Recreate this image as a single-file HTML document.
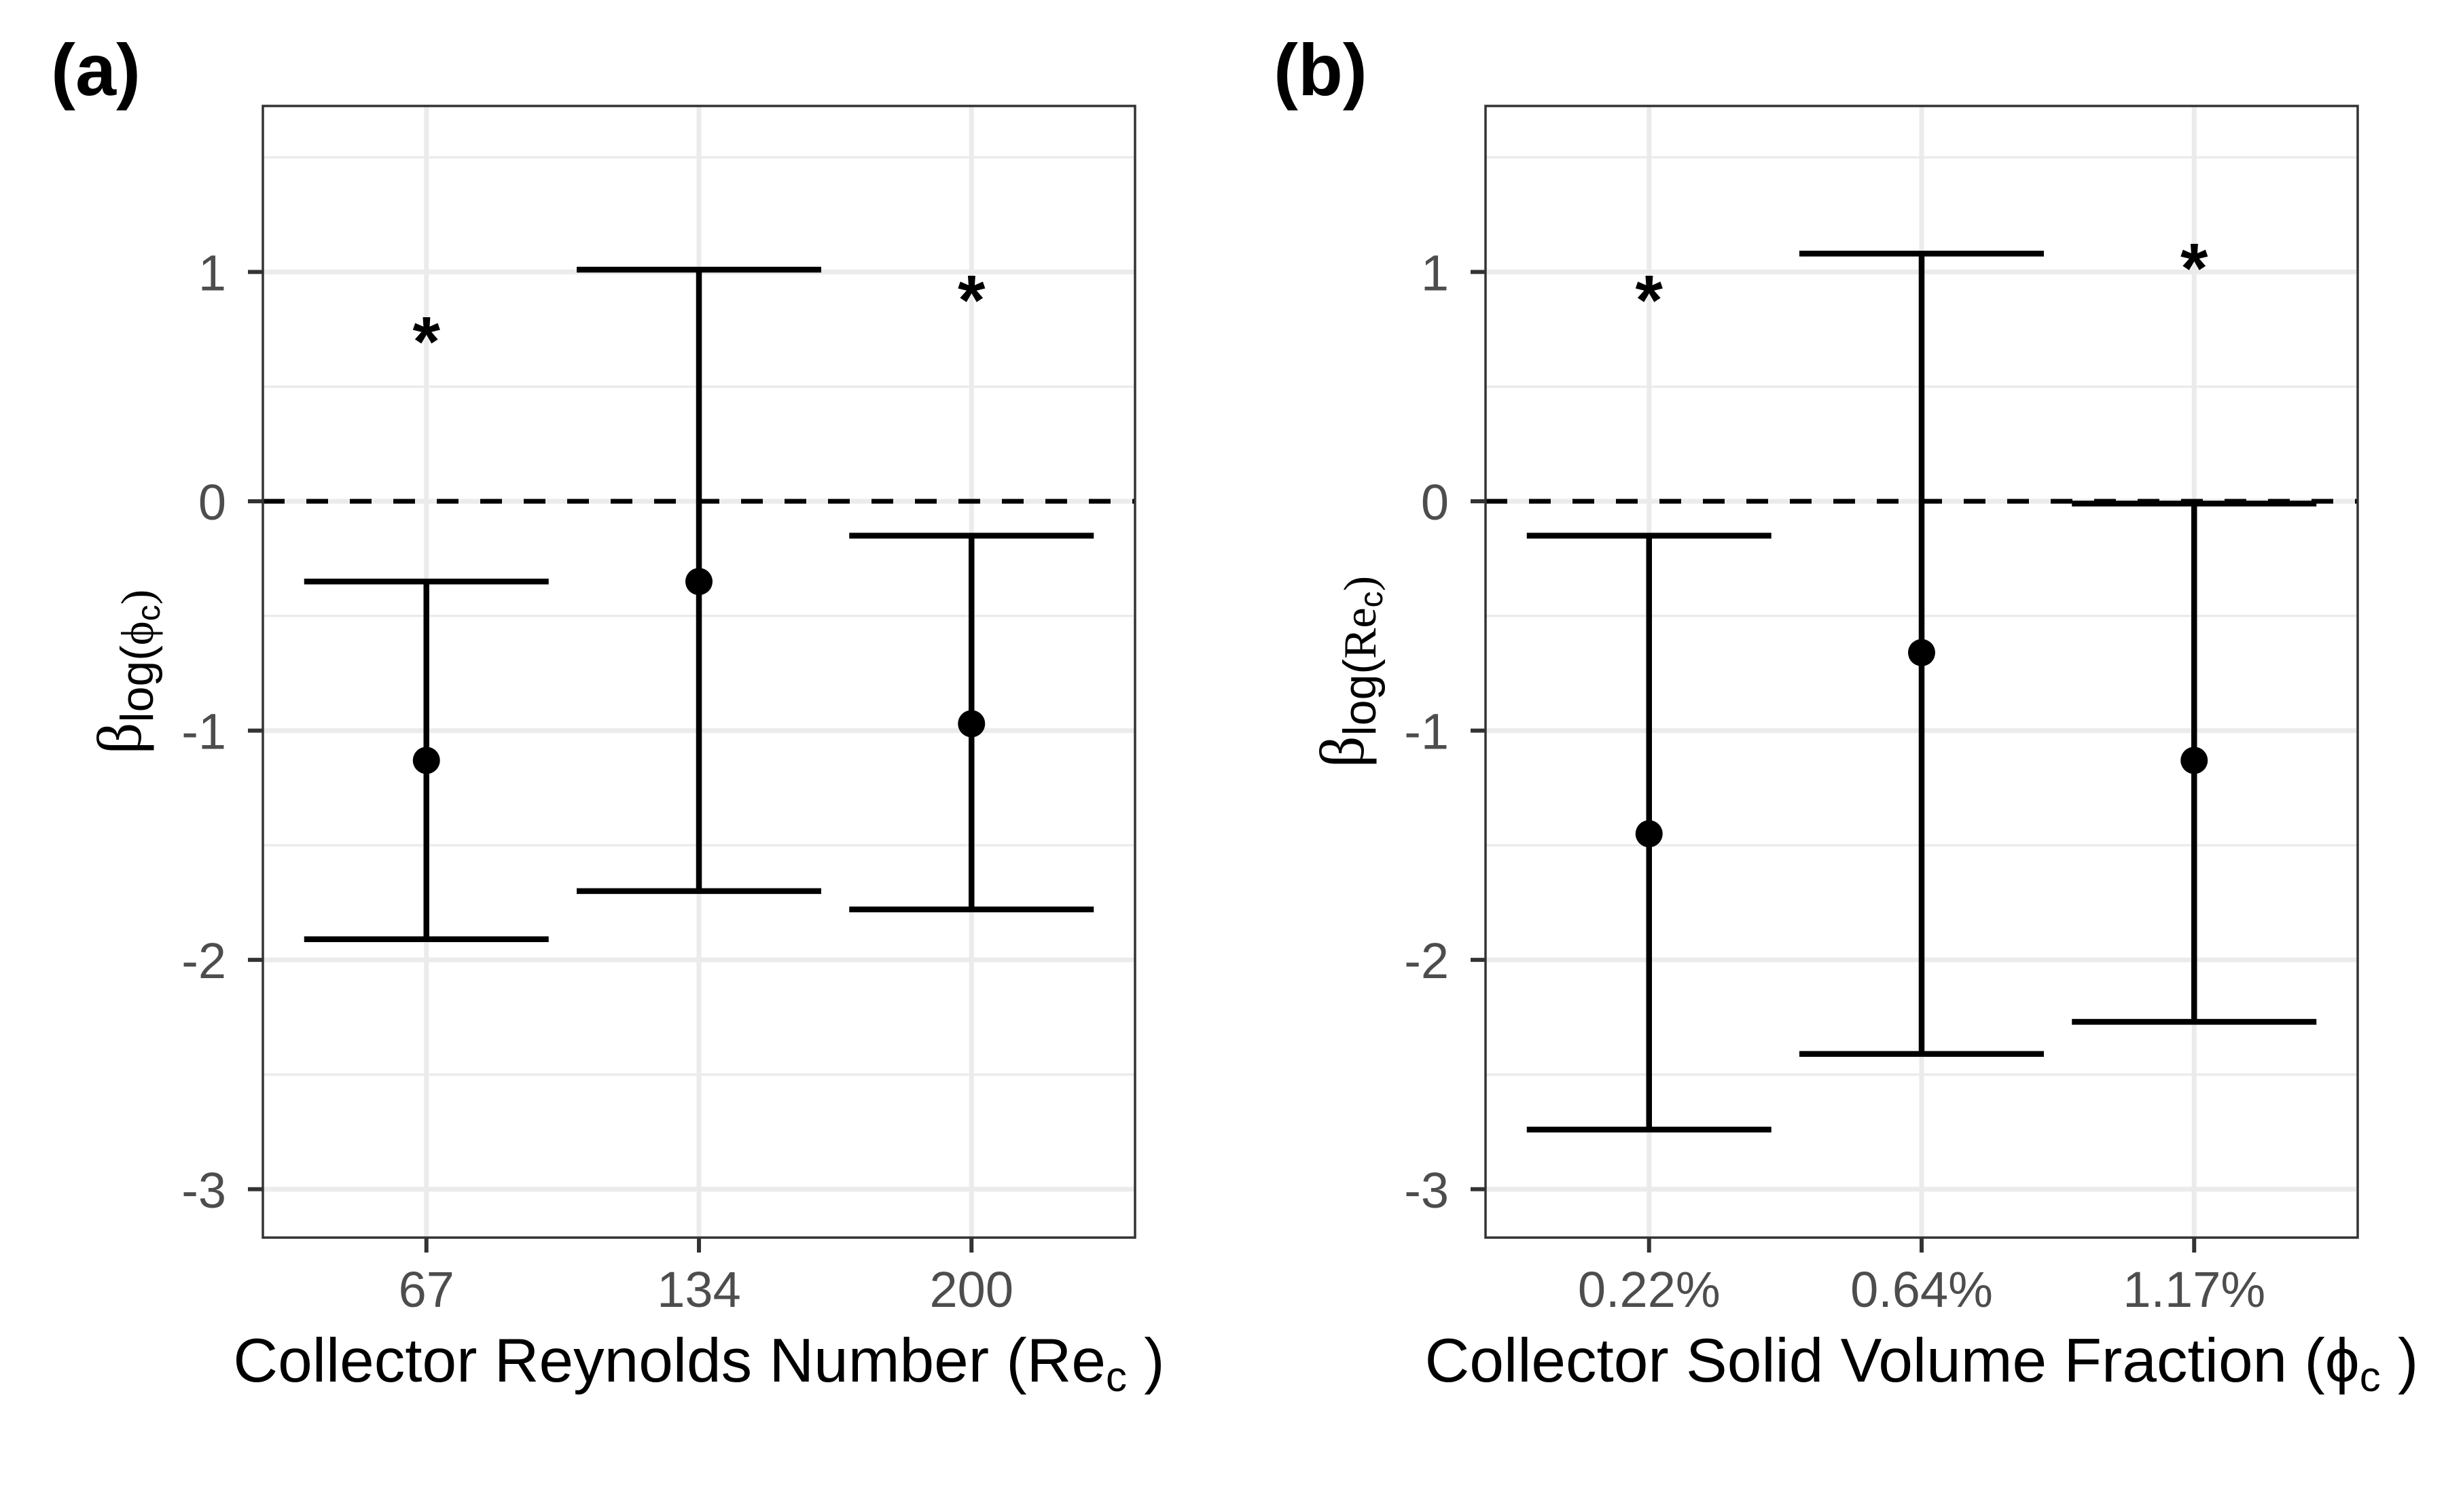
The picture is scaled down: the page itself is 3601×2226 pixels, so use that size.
<!DOCTYPE html>
<html><head><meta charset="utf-8"><style>
html,body{margin:0;padding:0;background:#fff;}
svg{display:block;font-family:"Liberation Sans",sans-serif;}
</style></head><body>
<svg id="chart" width="3601" height="2226" viewBox="0 0 3601 2226" xmlns="http://www.w3.org/2000/svg"></svg>
<script>
const catsA = ["67","134","200"];
const meanA = [-1.13,-0.35,-0.97];
const lowA = [-1.91,-1.70,-1.78];
const highA = [-0.35,1.01,-0.15];
const starA = [0.71,null,0.89];
const catsB = ["0.22%","0.64%","1.17%"];
const meanB = [-1.45,-0.66,-1.13];
const lowB = [-2.74,-2.41,-2.27];
const highB = [-0.15,1.08,-0.01];
const starB = [0.89,null,1.03];
const yTicks = [1,0,-1,-2,-3];
const yTickLabels = ["1","0","-1","-2","-3"];
const yMinor = [1.5,0.5,-0.5,-1.5,-2.5];

const NS="http://www.w3.org/2000/svg";
const svgEl=document.getElementById('chart');
function mk(tag,attrs,parent,text){const e=document.createElementNS(NS,tag);for(const k in attrs)e.setAttribute(k,attrs[k]);if(text!==undefined)e.textContent=text;(parent||svgEl).appendChild(e);return e;}

const plotTop=156,plotBot=1822,yMax=1.724,yMin=-3.211;
function yS(v){return plotTop+(yMax-v)/(yMax-yMin)*(plotBot-plotTop);}

function panel(px,label,cats,mean,low,high,star,xTitleParts,yTitleSub,name){
  const L=px,R=px+1284;
  const g=mk('g',{});
  
  
  function xS(i){return L+(R-L)*(0.6+i)/(cats.length-1+1.2);}
  const hw=180;
  mk('rect',{x:L,y:plotTop,width:R-L,height:plotBot-plotTop,fill:'#fff'},g);
  yMinor.forEach(v=>{const l=mk('line',{x1:L,x2:R,y1:yS(v),y2:yS(v),stroke:'#ebebeb','stroke-width':3.5},g);
    
    });
  yTicks.forEach(v=>{const l=mk('line',{x1:L,x2:R,y1:yS(v),y2:yS(v),stroke:'#ebebeb','stroke-width':7},g);
    
    });
  cats.forEach((c,i)=>{const l=mk('line',{x1:xS(i),x2:xS(i),y1:plotTop,y2:plotBot,stroke:'#ebebeb','stroke-width':7},g);
    
    });
  const z=mk('line',{x1:L,x2:R,y1:yS(0),y2:yS(0),stroke:'#000','stroke-width':7,'stroke-dasharray':'32 32'},g);
  
  
  cats.forEach((c,i)=>{
    const x=xS(i);
    const eb=mk('g',{stroke:'#000','stroke-width':8.5,fill:'none'},g);
    
    
    mk('line',{x1:x-hw,x2:x+hw,y1:yS(high[i]),y2:yS(high[i])},eb);
    mk('line',{x1:x-hw,x2:x+hw,y1:yS(low[i]),y2:yS(low[i])},eb);
    mk('line',{x1:x,x2:x,y1:yS(high[i]),y2:yS(low[i])},eb);
    const p=mk('circle',{cx:x,cy:yS(mean[i]),r:20,fill:'#000'},g);
    
    
    if(star[i]!==null){const s=mk('text',{x:x,y:yS(star[i])+40,'text-anchor':'middle','font-size':104,'font-weight':'bold',fill:'#000'},g,'*');
      
      }
    const t=mk('text',{x:x,y:1924,'text-anchor':'middle','font-size':74,fill:'#4d4d4d'},g,c);
    
    
    mk('line',{x1:x,x2:x,y1:plotBot,y2:plotBot+22,stroke:'#333','stroke-width':6},g);
  });
  yTicks.forEach((v,i)=>{
    mk('line',{x1:L-22,x2:L,y1:yS(v),y2:yS(v),stroke:'#333','stroke-width':6},g);
    const t=mk('text',{x:L-54,y:yS(v)+27,'text-anchor':'end','font-size':74,fill:'#4d4d4d'},g,yTickLabels[i]);
    
    
  });
  const b=mk('rect',{x:L,y:plotTop,width:R-L,height:plotBot-plotTop,fill:'none',stroke:'#333','stroke-width':3.5},g);
  
  
  const xt=mk('text',{x:(L+R)/2,y:2034,'text-anchor':'middle','font-size':91,fill:'#000'},g);
  
  
  mk('tspan',{},xt,xTitleParts[0]);
  mk('tspan',{'font-size':62,dy:14},xt,'c');
  mk('tspan',{dy:-14},xt,' )');
  const yt=mk('text',{x:0,y:0,'text-anchor':'middle','font-size':92,fill:'#000',transform:`translate(${L-180},${(plotTop+plotBot)/2}) rotate(-90)`,'font-family':'"Liberation Serif",serif'},g);
  
  
  mk('tspan',{},yt,'β');
  mk('tspan',{'font-size':68,dy:18,'font-family':'"Liberation Sans",sans-serif'},yt,yTitleSub[0]);
  mk('tspan',{'font-size':68,'font-family':'"Liberation Serif",serif'},yt,yTitleSub[1]);
  mk('tspan',{'font-size':48,dy:10,'font-family':'"Liberation Sans",sans-serif'},yt,'c');
  mk('tspan',{'font-size':68,dy:-10},yt,')');
  const pl=mk('text',{x:px-312,y:140,'font-size':108,'font-weight':'bold',fill:'#000'},g,label);
  
  
}
panel(387,'(a)',catsA,meanA,lowA,highA,starA,['Collector Reynolds Number (Re'],['log(','ϕ'],'panel-a');
panel(2187,'(b)',catsB,meanB,lowB,highB,starB,['Collector Solid Volume Fraction (ϕ'],['log(','Re'],'panel-b');
</script>
</body></html>
